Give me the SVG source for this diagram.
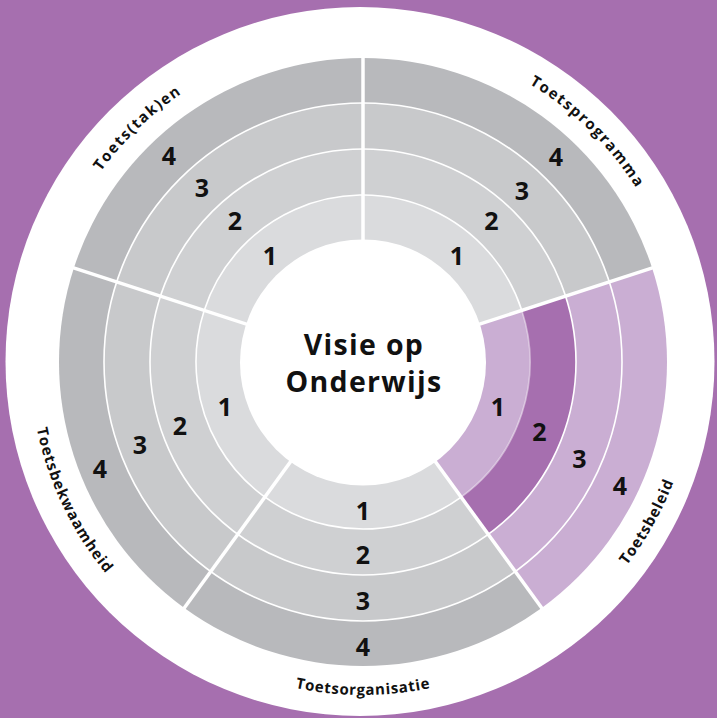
<svg xmlns="http://www.w3.org/2000/svg" width="717" height="718" viewBox="0 0 717 718">
<style>
.r1{fill:#DADBDD}.r2{fill:#CFD0D2}.r3{fill:#C8C9CB}.r4{fill:#B8B9BC}
.p1{fill:#CAAED3}.p2{fill:#A66FAF}
.num{font-family:"Open Sans","Noto Sans",sans-serif;font-weight:700;font-size:25px;fill:#111;text-anchor:middle}
.lbl{font-family:"Open Sans","Noto Sans",sans-serif;font-weight:700;font-size:15px;fill:#111;text-anchor:middle}
.title{font-family:"Open Sans","Noto Sans",sans-serif;font-weight:700;font-size:28.5px;letter-spacing:1.3px;fill:#111;text-anchor:middle}
.ring{fill:none;stroke:#fff;stroke-width:1.6}
.sep{stroke:#fff;stroke-width:3.5}
</style>
<defs>
<path id="arcTop" d="M 39 362 A 324 324 0 0 1 687 362"/>
<path id="arcBot" d="M 30 362 A 333 333 0 0 0 696 362"/>
</defs>
<rect width="717" height="718" fill="#A66FAF"/>
<circle cx="360" cy="361.5" r="354.5" fill="#fff"/>

<g id="toetsprogramma">
<path class="r4" d="M363 362 L363 58 A304 304 0 0 1 652.12 268.06 Z"/>
<path class="r3" d="M363 362 L363 103 A259 259 0 0 1 609.32 281.97 Z"/>
<path class="r2" d="M363 362 L363 149 A213 213 0 0 1 565.57 296.18 Z"/>
<path class="r1" d="M363 362 L363 195 A167 167 0 0 1 521.83 310.39 Z"/>
<text class="num" x="457" y="265">1</text>
<text class="num" x="491.5" y="230">2</text>
<text class="num" x="522" y="199.5">3</text>
<text class="num" x="556" y="166">4</text>
<text class="lbl" style="letter-spacing:1.6px"><textPath href="#arcTop" startOffset="74.6%">Toetsprogramma</textPath></text>
</g>

<g id="toetsbeleid">
<path class="p1" d="M363 362 L652.12 268.06 A304 304 0 0 1 541.69 607.94 Z"/>
<path class="p1" d="M363 362 L609.32 281.97 A259 259 0 0 1 515.24 571.54 Z"/>
<path class="p2" d="M363 362 L565.57 296.18 A213 213 0 0 1 488.20 534.32 Z"/>
<path class="p1" d="M363 362 L521.83 310.39 A167 167 0 0 1 461.16 497.11 Z"/>
<text class="num" x="498" y="416">1</text>
<text class="num" x="539.5" y="441">2</text>
<text class="num" x="579.5" y="468">3</text>
<text class="num" x="620" y="495">4</text>
<text class="lbl" style="letter-spacing:0.9px"><textPath href="#arcBot" startOffset="83.7%">Toetsbeleid</textPath></text>
</g>

<g id="toetsorganisatie">
<path class="r4" d="M363 362 L541.69 607.94 A304 304 0 0 1 184.31 607.94 Z"/>
<path class="r3" d="M363 362 L515.24 571.54 A259 259 0 0 1 210.76 571.54 Z"/>
<path class="r2" d="M363 362 L488.20 534.32 A213 213 0 0 1 237.80 534.32 Z"/>
<path class="r1" d="M363 362 L461.16 497.11 A167 167 0 0 1 264.84 497.11 Z"/>
<text class="num" x="363" y="520">1</text>
<text class="num" x="363" y="564">2</text>
<text class="num" x="363" y="610">3</text>
<text class="num" x="363" y="655.5">4</text>
<text class="lbl" style="letter-spacing:0.7px"><textPath href="#arcBot" startOffset="50%">Toetsorganisatie</textPath></text>
</g>

<g id="toetsbekwaamheid">
<path class="r4" d="M363 362 L184.31 607.94 A304 304 0 0 1 73.88 268.06 Z"/>
<path class="r3" d="M363 362 L210.76 571.54 A259 259 0 0 1 116.68 281.97 Z"/>
<path class="r2" d="M363 362 L237.80 534.32 A213 213 0 0 1 160.43 296.18 Z"/>
<path class="r1" d="M363 362 L264.84 497.11 A167 167 0 0 1 204.17 310.39 Z"/>
<text class="num" x="225" y="416">1</text>
<text class="num" x="180" y="435">2</text>
<text class="num" x="140" y="454">3</text>
<text class="num" x="100" y="478">4</text>
<text class="lbl" style="letter-spacing:1px"><textPath href="#arcBot" startOffset="14.2%">Toetsbekwaamheid</textPath></text>
</g>

<g id="toetstaken">
<path class="r4" d="M363 362 L73.88 268.06 A304 304 0 0 1 363 58 Z"/>
<path class="r3" d="M363 362 L116.68 281.97 A259 259 0 0 1 363 103 Z"/>
<path class="r2" d="M363 362 L160.43 296.18 A213 213 0 0 1 363 149 Z"/>
<path class="r1" d="M363 362 L204.17 310.39 A167 167 0 0 1 363 195 Z"/>
<text class="num" x="270" y="265">1</text>
<text class="num" x="235" y="230">2</text>
<text class="num" x="202" y="197">3</text>
<text class="num" x="169" y="164.5">4</text>
<text class="lbl" style="letter-spacing:1.6px"><textPath href="#arcTop" startOffset="25.6%">Toets(tak)en</textPath></text>
</g>

<g id="connectors">
<circle class="ring" cx="363" cy="362" r="259"/>
<circle class="ring" cx="363" cy="362" r="213"/>
<path class="ring" d="M461.16 497.11 A167 167 0 1 1 521.83 310.39"/>
<path class="ring" style="stroke-opacity:0.45" d="M521.83 310.39 A167 167 0 0 1 461.16 497.11"/>
<line class="sep" x1="363" y1="362" x2="363" y2="52"/>
<line class="sep" x1="363" y1="362" x2="657.83" y2="266.20"/>
<line class="sep" x1="363" y1="362" x2="545.21" y2="612.80"/>
<line class="sep" x1="363" y1="362" x2="180.79" y2="612.80"/>
<line class="sep" x1="363" y1="362" x2="68.17" y2="266.20"/>
</g>

<g id="visie">
<circle cx="363" cy="362.5" r="123" fill="#fff"/>
<text class="title" x="364" y="355">Visie op</text>
<text class="title" x="364" y="392">Onderwijs</text>
</g>
</svg>
